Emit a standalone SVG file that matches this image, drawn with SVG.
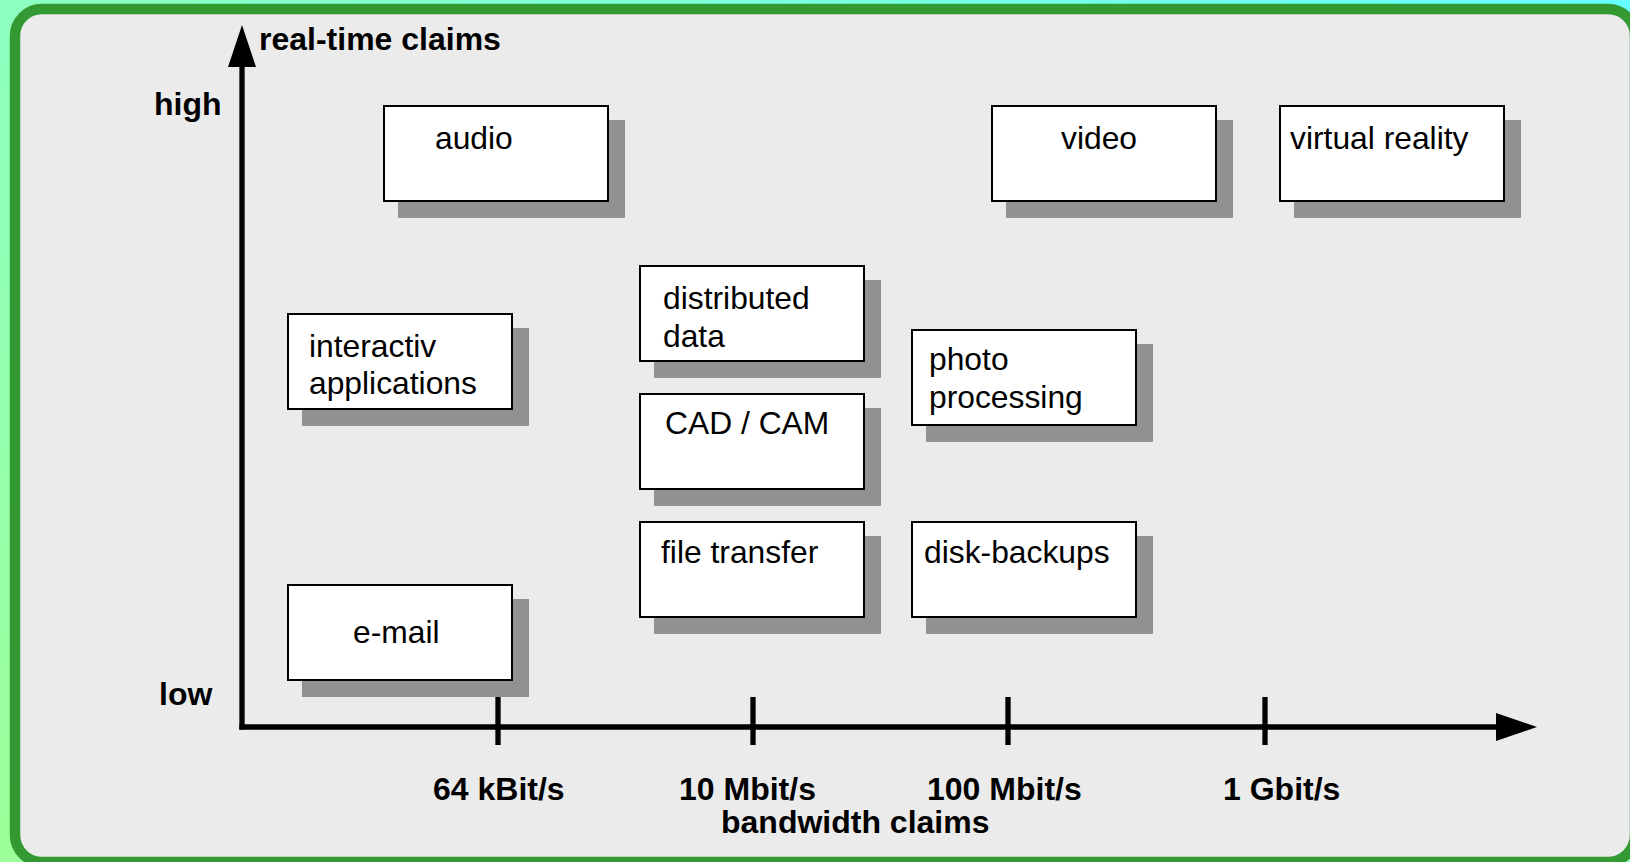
<svg xmlns="http://www.w3.org/2000/svg" width="1630" height="862" viewBox="0 0 1630 862">
  <defs>
    <linearGradient id="bg" x1="0" y1="1" x2="1" y2="0">
      <stop offset="0" stop-color="#9cff98"/>
      <stop offset="0.5" stop-color="#8cffc0"/>
      <stop offset="1" stop-color="#66ffff"/>
    </linearGradient>
    <style>
      .frame { fill: #ebebeb; stroke: #339933; stroke-width: 10.5; }
      .shadow { fill: #919191; }
      .box { fill: #ffffff; stroke: #000000; stroke-width: 2; }
      .lbl { font-family: "Liberation Sans", Arial, sans-serif; font-size: 31.8px; fill: #000000; }
      .axis-lbl { font-family: "Liberation Sans", Arial, sans-serif; font-size: 32px; font-weight: bold; fill: #000000; }
      .axis { stroke: #000000; stroke-width: 5.3; fill: none; }
    </style>
  </defs>

  <!-- page background and rounded frame -->
  <rect x="0" y="0" width="1630" height="862" fill="url(#bg)"/>
  <rect class="frame" x="15" y="9" width="1620" height="853" rx="27" ry="27"/>

  <!-- axes, ticks and arrowheads -->
  <g id="connectors">
    <line class="axis" x1="242" y1="60" x2="242" y2="729.6"/>
    <line class="axis" x1="239.4" y1="727" x2="1500" y2="727"/>
    <polygon points="242,25 228,67 256,67" fill="#000"/>
    <polygon points="1537,727 1496,713 1496,741" fill="#000"/>
    <line class="axis" x1="498" y1="697" x2="498" y2="745"/>
    <line class="axis" x1="753" y1="697" x2="753" y2="745"/>
    <line class="axis" x1="1008" y1="697" x2="1008" y2="745"/>
    <line class="axis" x1="1265" y1="697" x2="1265" y2="745"/>
  </g>

  <!-- axis labels -->
  <g id="axis-labels">
    <text class="axis-lbl" x="259" y="50">real-time claims</text>
    <text class="axis-lbl" x="154" y="115">high</text>
    <text class="axis-lbl" x="159" y="705">low</text>
    <text class="axis-lbl" x="433" y="800">64 kBit/s</text>
    <text class="axis-lbl" x="679" y="800">10 Mbit/s</text>
    <text class="axis-lbl" x="927" y="800">100 Mbit/s</text>
    <text class="axis-lbl" x="1223" y="800">1 Gbit/s</text>
    <text class="axis-lbl" x="721" y="833">bandwidth claims</text>
  </g>

  <!-- application boxes -->
  <g id="audio">
    <rect class="shadow" x="398" y="120" width="227" height="98"/>
    <rect class="box" x="384" y="106" width="224" height="95"/>
    <text class="lbl" x="435" y="149">audio</text>
  </g>
  <g id="video">
    <rect class="shadow" x="1006" y="120" width="227" height="98"/>
    <rect class="box" x="992" y="106" width="224" height="95"/>
    <text class="lbl" x="1061" y="149">video</text>
  </g>
  <g id="virtual-reality">
    <rect class="shadow" x="1294" y="120" width="227" height="98"/>
    <rect class="box" x="1280" y="106" width="224" height="95"/>
    <text class="lbl" x="1290" y="149">virtual reality</text>
  </g>
  <g id="distributed-data">
    <rect class="shadow" x="654" y="280" width="227" height="98"/>
    <rect class="box" x="640" y="266" width="224" height="95"/>
    <text class="lbl" x="663" y="309">distributed</text>
    <text class="lbl" x="663" y="347">data</text>
  </g>
  <g id="interactive-applications">
    <rect class="shadow" x="302" y="328" width="227" height="98"/>
    <rect class="box" x="288" y="314" width="224" height="95"/>
    <text class="lbl" x="309" y="357">interactiv</text>
    <text class="lbl" x="309" y="394">applications</text>
  </g>
  <g id="photo-processing">
    <rect class="shadow" x="926" y="344" width="227" height="98"/>
    <rect class="box" x="912" y="330" width="224" height="95"/>
    <text class="lbl" x="929" y="370">photo</text>
    <text class="lbl" x="929" y="408">processing</text>
  </g>
  <g id="cad-cam">
    <rect class="shadow" x="654" y="408" width="227" height="98"/>
    <rect class="box" x="640" y="394" width="224" height="95"/>
    <text class="lbl" x="665" y="434">CAD / CAM</text>
  </g>
  <g id="file-transfer">
    <rect class="shadow" x="654" y="536" width="227" height="98"/>
    <rect class="box" x="640" y="522" width="224" height="95"/>
    <text class="lbl" x="661" y="563">file transfer</text>
  </g>
  <g id="disk-backups">
    <rect class="shadow" x="926" y="536" width="227" height="98"/>
    <rect class="box" x="912" y="522" width="224" height="95"/>
    <text class="lbl" x="924" y="563">disk-backups</text>
  </g>
  <g id="e-mail">
    <rect class="shadow" x="302" y="599" width="227" height="98"/>
    <rect class="box" x="288" y="585" width="224" height="95"/>
    <text class="lbl" x="353" y="643">e-mail</text>
  </g>
</svg>
